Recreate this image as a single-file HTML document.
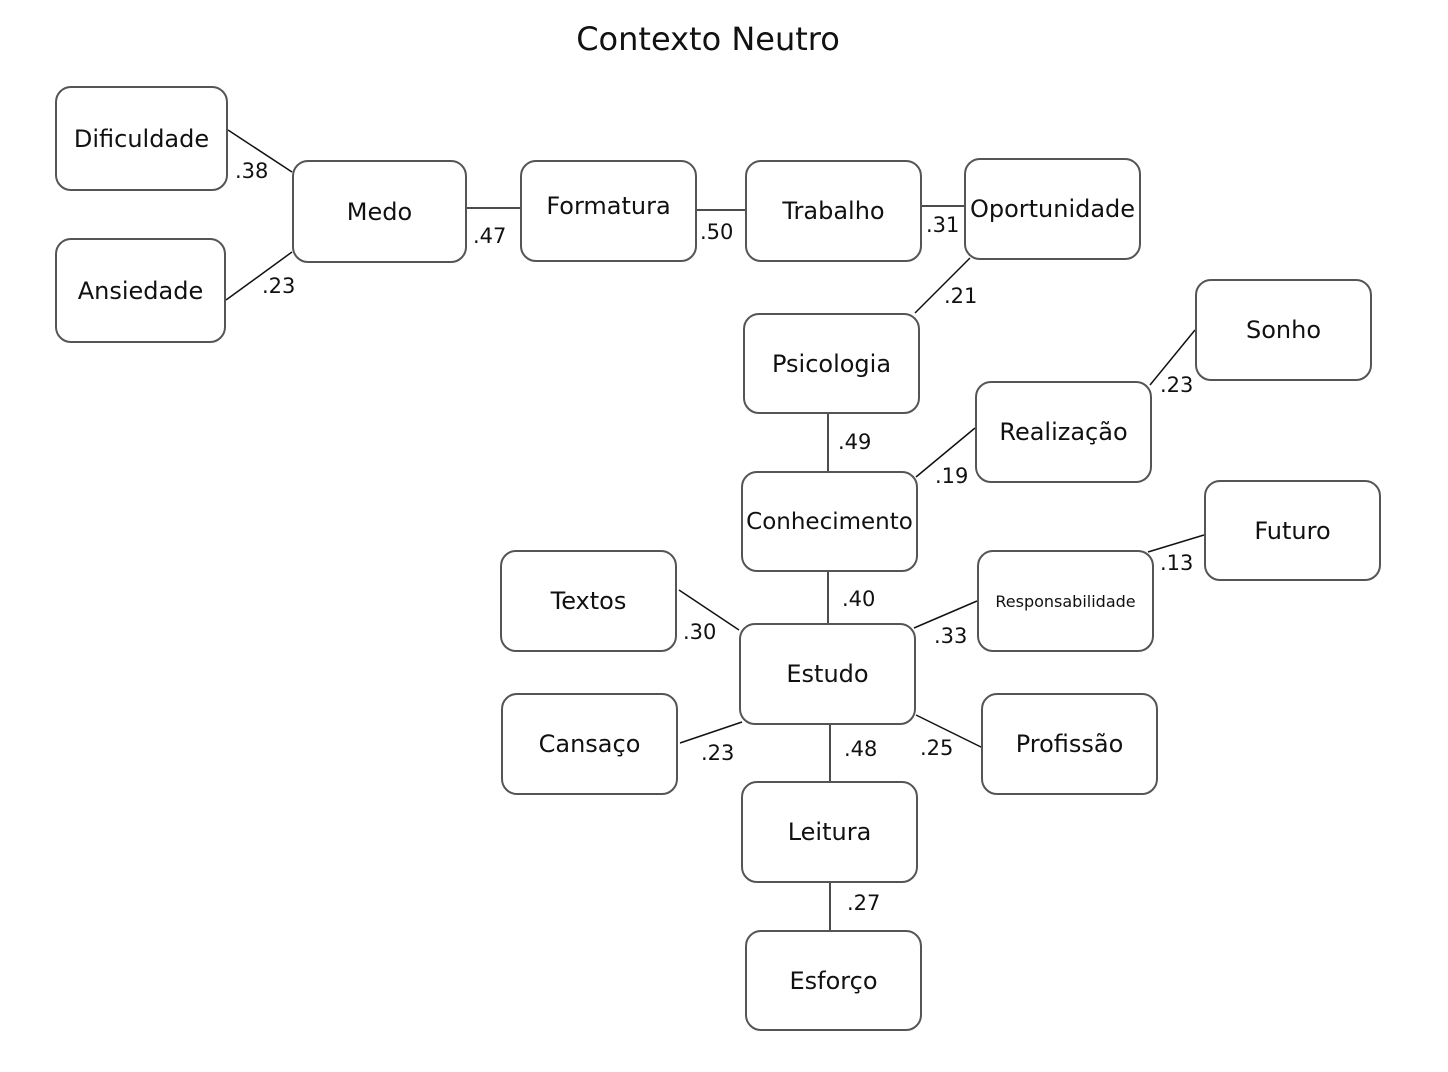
<!DOCTYPE html>
<html><head><meta charset="utf-8"><style>
body{margin:0;width:1448px;height:1072px;background:#fff;position:relative;overflow:hidden;font-family:"DejaVu Sans","Liberation Sans",sans-serif;color:#111}
.b{position:absolute;border:2px solid #555;border-radius:16px;box-sizing:border-box;display:flex;align-items:center;justify-content:center;font-size:24px;background:#fff;white-space:nowrap}
.l{position:absolute;font-size:21px}
svg{position:absolute;left:0;top:0}
</style></head><body>
<div style="position:absolute;left:0;width:1416px;top:20px;text-align:center;font-size:32px">Contexto Neutro</div>
<svg width="1448" height="1072" stroke="#111" stroke-width="1.5">
<line x1="228" y1="130" x2="292" y2="172"/>
<line x1="226" y1="300" x2="292" y2="252"/>
<line x1="467" y1="208" x2="520" y2="208"/>
<line x1="697" y1="210" x2="745" y2="210"/>
<line x1="922" y1="206" x2="964" y2="206"/>
<line x1="970" y1="258" x2="915" y2="313"/>
<line x1="828" y1="414" x2="828" y2="471"/>
<line x1="916" y1="477" x2="975" y2="428"/>
<line x1="1150" y1="385" x2="1195" y2="330"/>
<line x1="828" y1="572" x2="828" y2="623"/>
<line x1="1148" y1="552" x2="1204" y2="535"/>
<line x1="914" y1="628" x2="977" y2="601"/>
<line x1="679" y1="590" x2="739" y2="630"/>
<line x1="680" y1="743" x2="742" y2="722"/>
<line x1="916" y1="715" x2="983" y2="748"/>
<line x1="830" y1="725" x2="830" y2="781"/>
<line x1="830" y1="883" x2="830" y2="930"/>
</svg>
<div class="b" style="left:55px;top:86px;width:173px;height:105px">Dificuldade</div>
<div class="b" style="left:55px;top:238px;width:171px;height:105px">Ansiedade</div>
<div class="b" style="left:292px;top:160px;width:175px;height:103px">Medo</div>
<div class="b" style="left:520px;top:160px;width:177px;height:102px;padding-bottom:10px">Formatura</div>
<div class="b" style="left:745px;top:160px;width:177px;height:102px">Trabalho</div>
<div class="b" style="left:964px;top:158px;width:177px;height:102px">Oportunidade</div>
<div class="b" style="left:743px;top:313px;width:177px;height:101px">Psicologia</div>
<div class="b" style="left:1195px;top:279px;width:177px;height:102px">Sonho</div>
<div class="b" style="left:975px;top:381px;width:177px;height:102px">Realização</div>
<div class="b" style="left:741px;top:471px;width:177px;height:101px;font-size:23px">Conhecimento</div>
<div class="b" style="left:1204px;top:480px;width:177px;height:101px">Futuro</div>
<div class="b" style="left:500px;top:550px;width:177px;height:102px">Textos</div>
<div class="b" style="left:977px;top:550px;width:177px;height:102px;font-size:16px">Responsabilidade</div>
<div class="b" style="left:739px;top:623px;width:177px;height:102px">Estudo</div>
<div class="b" style="left:501px;top:693px;width:177px;height:102px">Cansaço</div>
<div class="b" style="left:981px;top:693px;width:177px;height:102px">Profissão</div>
<div class="b" style="left:741px;top:781px;width:177px;height:102px">Leitura</div>
<div class="b" style="left:745px;top:930px;width:177px;height:101px">Esforço</div>
<div class="l" style="left:235px;top:159px">.38</div>
<div class="l" style="left:262px;top:274px">.23</div>
<div class="l" style="left:473px;top:224px">.47</div>
<div class="l" style="left:700px;top:220px">.50</div>
<div class="l" style="left:926px;top:213px">.31</div>
<div class="l" style="left:944px;top:284px">.21</div>
<div class="l" style="left:1160px;top:373px">.23</div>
<div class="l" style="left:838px;top:430px">.49</div>
<div class="l" style="left:935px;top:464px">.19</div>
<div class="l" style="left:1160px;top:551px">.13</div>
<div class="l" style="left:842px;top:587px">.40</div>
<div class="l" style="left:683px;top:620px">.30</div>
<div class="l" style="left:934px;top:624px">.33</div>
<div class="l" style="left:701px;top:741px">.23</div>
<div class="l" style="left:844px;top:737px">.48</div>
<div class="l" style="left:920px;top:736px">.25</div>
<div class="l" style="left:847px;top:891px">.27</div>
</body></html>
